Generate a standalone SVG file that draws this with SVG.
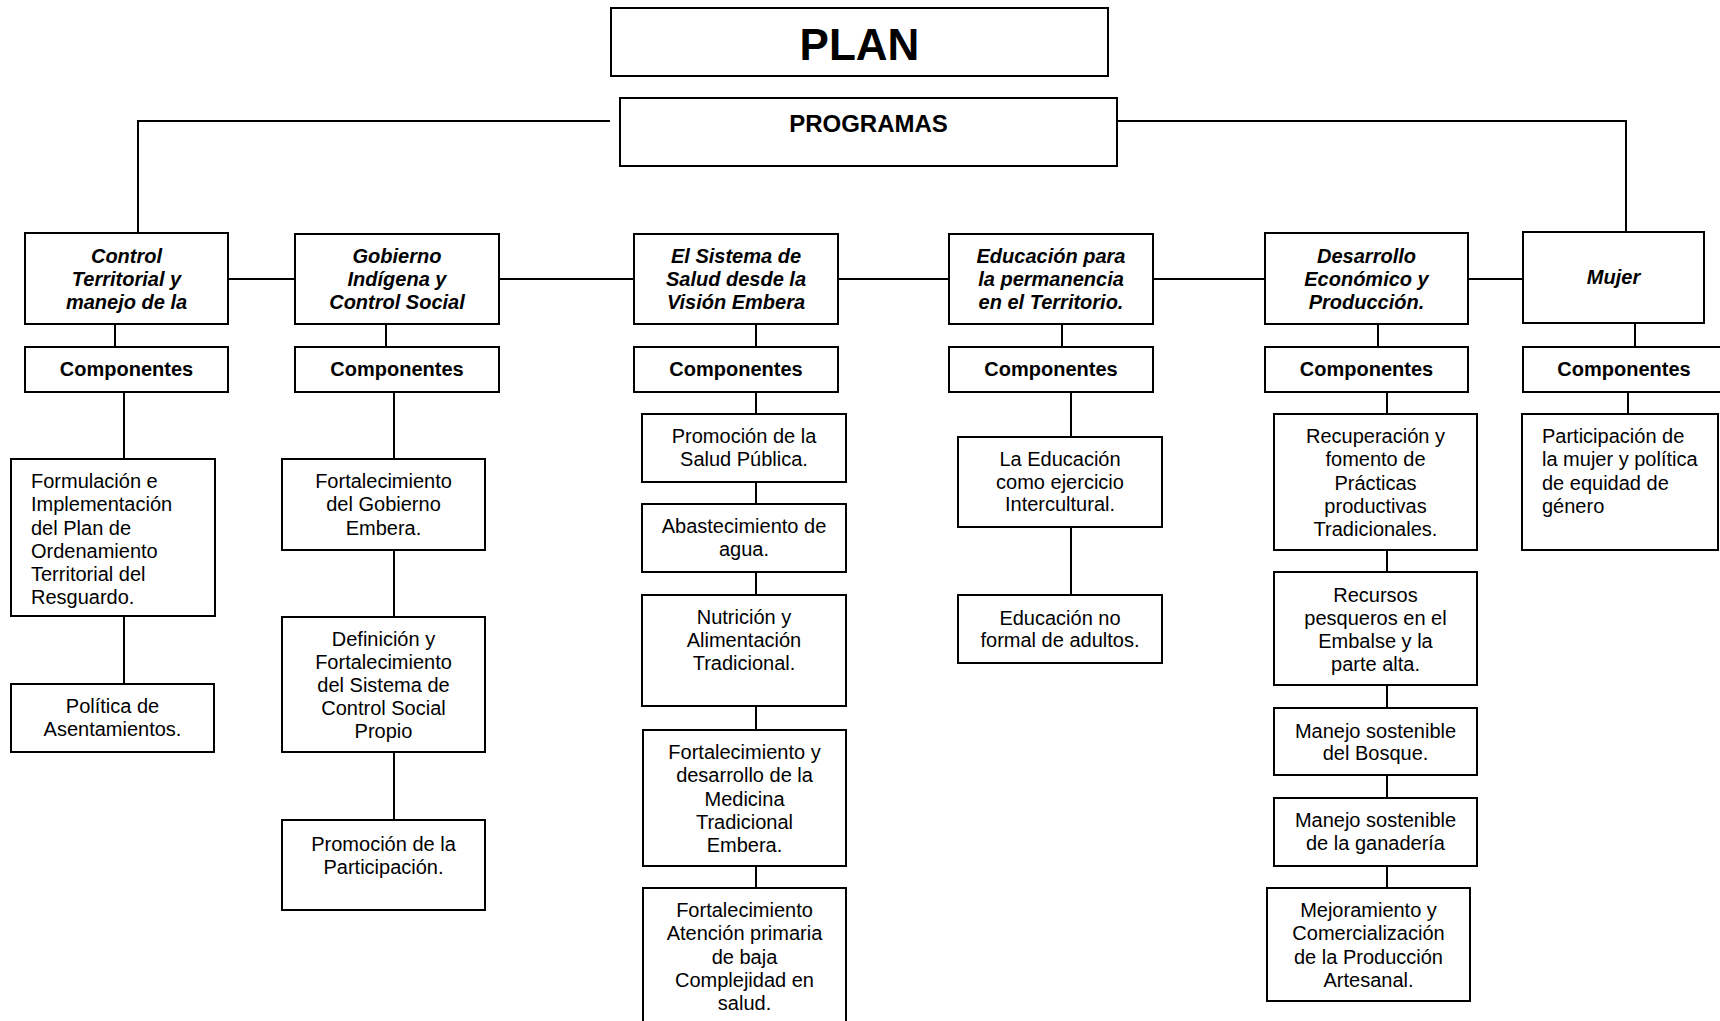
<svg xmlns="http://www.w3.org/2000/svg" width="1720" height="1021" viewBox="0 0 1720 1021">
<style>
rect{fill:#fff;stroke:#000;stroke-width:2}
.c{fill:none;stroke:#000;stroke-width:2}
text{font-family:"Liberation Sans",Arial,sans-serif;font-size:20px;fill:#000;text-anchor:middle}
.l{text-anchor:start}
.b{font-weight:bold}
.bi{font-weight:bold;font-style:italic}
</style>
<g id="connectors">
<path class="c" d="M610,121H138V233M1107,121H1626V232"/>
<path class="c" d="M228,279H295M499,279H634M838,279H949M1153,279H1265M1468,279H1523"/>
<path class="c" d="M115,324V347M386,324V347M756,324V347M1062,324V347M1378,324V347M1635,323V347"/>
<path class="c" d="M124,392V459M124,616V684"/>
<path class="c" d="M394,392V459M394,550V617M394,752V820"/>
<path class="c" d="M756,392V414M756,482V504M756,572V595M756,706V730M756,866V888"/>
<path class="c" d="M1071,392V437M1071,527V595"/>
<path class="c" d="M1387,392V414M1387,550V572M1387,685V708M1387,775V798M1387,866V888"/>
<path class="c" d="M1628,392V414"/>
</g>
<g id="plan"><rect x="611" y="8" width="497" height="68"/><text x="859.5" y="60" class="b" style="font-size:44px">PLAN</text></g>
<g id="programas"><rect x="620" y="98" width="497" height="68"/><text x="868.5" y="131.5" class="b" style="font-size:24px">PROGRAMAS</text></g>

<g id="p1"><rect x="25" y="233" width="203" height="91"/><text class="bi" x="126.5"><tspan x="126.5" y="263">Control</tspan><tspan x="126.5" y="286">Territorial y</tspan><tspan x="126.5" y="309">manejo de la</tspan></text></g>
<g id="p2"><rect x="295" y="234" width="204" height="90"/><text class="bi"><tspan x="397" y="263">Gobierno</tspan><tspan x="397" y="286">Indígena y</tspan><tspan x="397" y="309">Control Social</tspan></text></g>
<g id="p3"><rect x="634" y="234" width="204" height="90"/><text class="bi"><tspan x="736" y="263">El Sistema de</tspan><tspan x="736" y="286">Salud desde la</tspan><tspan x="736" y="309">Visión Embera</tspan></text></g>
<g id="p4"><rect x="949" y="234" width="204" height="90"/><text class="bi"><tspan x="1051" y="263">Educación para</tspan><tspan x="1051" y="286">la permanencia</tspan><tspan x="1051" y="309">en el Territorio.</tspan></text></g>
<g id="p5"><rect x="1265" y="233" width="203" height="91"/><text class="bi"><tspan x="1366.5" y="263">Desarrollo</tspan><tspan x="1366.5" y="286">Económico y</tspan><tspan x="1366.5" y="309">Producción.</tspan></text></g>
<g id="p6"><rect x="1523" y="232" width="181" height="91"/><text class="bi" x="1613.5" y="283.5">Mujer</text></g>

<g id="c1"><rect x="25" y="347" width="203" height="45"/><text class="b" x="126.5" y="376">Componentes</text></g>
<g id="c2"><rect x="295" y="347" width="204" height="45"/><text class="b" x="397" y="376">Componentes</text></g>
<g id="c3"><rect x="634" y="347" width="204" height="45"/><text class="b" x="736" y="376">Componentes</text></g>
<g id="c4"><rect x="949" y="347" width="204" height="45"/><text class="b" x="1051" y="376">Componentes</text></g>
<g id="c5"><rect x="1265" y="347" width="203" height="45"/><text class="b" x="1366.5" y="376">Componentes</text></g>
<g id="c6"><rect x="1523" y="347" width="205" height="45"/><text class="b" x="1624" y="376">Componentes</text></g>

<g id="f1a"><rect x="11" y="459" width="204" height="157"/><text class="l"><tspan x="31" y="488.3">Formulación e</tspan><tspan x="31" y="511.4">Implementación</tspan><tspan x="31" y="534.5">del Plan de</tspan><tspan x="31" y="557.6">Ordenamiento</tspan><tspan x="31" y="580.7">Territorial del</tspan><tspan x="31" y="603.8">Resguardo.</tspan></text></g>
<g id="f1b"><rect x="11" y="684" width="203" height="68"/><text><tspan x="112.5" y="713.3">Política de</tspan><tspan x="112.5" y="736.4">Asentamientos.</tspan></text></g>

<g id="f2a"><rect x="282" y="459" width="203" height="91"/><text><tspan x="383.5" y="488.3">Fortalecimiento</tspan><tspan x="383.5" y="511.4">del Gobierno</tspan><tspan x="383.5" y="534.5">Embera.</tspan></text></g>
<g id="f2b"><rect x="282" y="617" width="203" height="135"/><text><tspan x="383.5" y="645.7">Definición y</tspan><tspan x="383.5" y="668.8">Fortalecimiento</tspan><tspan x="383.5" y="691.9">del Sistema de</tspan><tspan x="383.5" y="715">Control Social</tspan><tspan x="383.5" y="738.1">Propio</tspan></text></g>
<g id="f2c"><rect x="282" y="820" width="203" height="90"/><text><tspan x="383.5" y="850.5">Promoción de la</tspan><tspan x="383.5" y="873.6">Participación.</tspan></text></g>

<g id="f3a"><rect x="642" y="414" width="204" height="68"/><text><tspan x="744" y="443.3">Promoción de la</tspan><tspan x="744" y="466.4">Salud Pública.</tspan></text></g>
<g id="f3b"><rect x="642" y="504" width="204" height="68"/><text><tspan x="744" y="533.3">Abastecimiento de</tspan><tspan x="744" y="556.4">agua.</tspan></text></g>
<g id="f3c"><rect x="642" y="595" width="204" height="111"/><text><tspan x="744" y="624">Nutrición y</tspan><tspan x="744" y="647.1">Alimentación</tspan><tspan x="744" y="670.2">Tradicional.</tspan></text></g>
<g id="f3d"><rect x="643" y="730" width="203" height="136"/><text><tspan x="744.5" y="759.3">Fortalecimiento y</tspan><tspan x="744.5" y="782.4">desarrollo de la</tspan><tspan x="744.5" y="805.5">Medicina</tspan><tspan x="744.5" y="828.6">Tradicional</tspan><tspan x="744.5" y="851.7">Embera.</tspan></text></g>
<g id="f3e"><rect x="643" y="888" width="203" height="145"/><text><tspan x="744.5" y="917.3">Fortalecimiento</tspan><tspan x="744.5" y="940.4">Atención primaria</tspan><tspan x="744.5" y="963.5">de baja</tspan><tspan x="744.5" y="986.6">Complejidad en</tspan><tspan x="744.5" y="1009.7">salud.</tspan></text></g>

<g id="f4a"><rect x="958" y="437" width="204" height="90"/><text><tspan x="1060" y="466">La Educación</tspan><tspan x="1060" y="488.8">como ejercicio</tspan><tspan x="1060" y="511.4">Intercultural.</tspan></text></g>
<g id="f4b"><rect x="958" y="595" width="204" height="68"/><text><tspan x="1060" y="624.5">Educación no</tspan><tspan x="1060" y="647.3">formal de adultos.</tspan></text></g>

<g id="f5a"><rect x="1274" y="414" width="203" height="136"/><text><tspan x="1375.5" y="443.3">Recuperación y</tspan><tspan x="1375.5" y="466.4">fomento de</tspan><tspan x="1375.5" y="489.5">Prácticas</tspan><tspan x="1375.5" y="512.6">productivas</tspan><tspan x="1375.5" y="535.7">Tradicionales.</tspan></text></g>
<g id="f5b"><rect x="1274" y="572" width="203" height="113"/><text><tspan x="1375.5" y="602">Recursos</tspan><tspan x="1375.5" y="625.1">pesqueros en el</tspan><tspan x="1375.5" y="648.2">Embalse y la</tspan><tspan x="1375.5" y="671.3">parte alta.</tspan></text></g>
<g id="f5c"><rect x="1274" y="708" width="203" height="67"/><text><tspan x="1375.5" y="737.5">Manejo sostenible</tspan><tspan x="1375.5" y="760.3">del Bosque.</tspan></text></g>
<g id="f5d"><rect x="1274" y="798" width="203" height="68"/><text><tspan x="1375.5" y="827.3">Manejo sostenible</tspan><tspan x="1375.5" y="850.4">de la ganadería</tspan></text></g>
<g id="f5e"><rect x="1267" y="888" width="203" height="113"/><text><tspan x="1368.5" y="917.3">Mejoramiento y</tspan><tspan x="1368.5" y="940.4">Comercialización</tspan><tspan x="1368.5" y="963.5">de la Producción</tspan><tspan x="1368.5" y="986.6">Artesanal.</tspan></text></g>

<g id="f6a"><rect x="1522" y="414" width="196" height="136"/><text class="l"><tspan x="1542" y="443.3">Participación de</tspan><tspan x="1542" y="466.4">la mujer y política</tspan><tspan x="1542" y="489.5">de equidad de</tspan><tspan x="1542" y="512.6">género</tspan></text></g>
</svg>
